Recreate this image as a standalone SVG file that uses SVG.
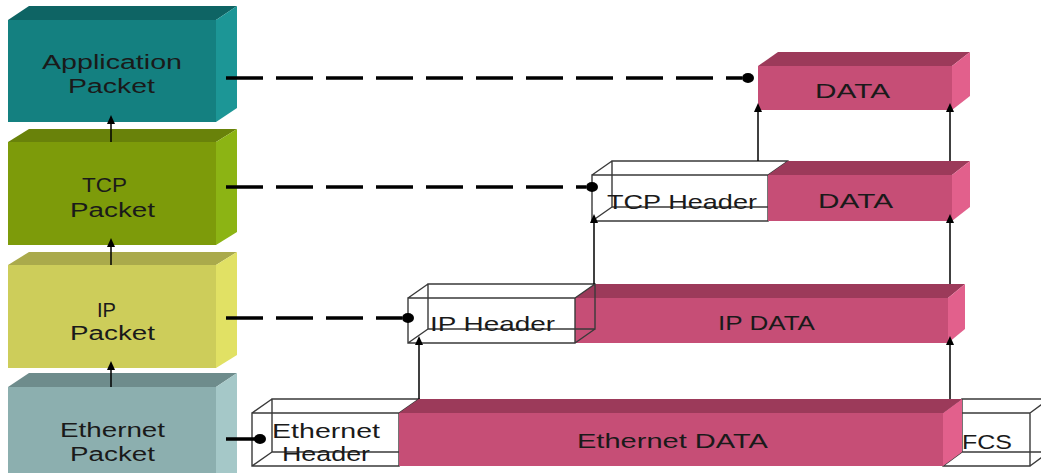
<svg xmlns="http://www.w3.org/2000/svg" width="1041" height="473" viewBox="0 0 1041 473">
  <style>
    .lbl { font-family: "Liberation Sans", Arial, sans-serif; font-size: 20px; fill: #1a1a1a; }
    .rlbl { font-family: "Liberation Sans", Arial, sans-serif; font-size: 21px; fill: #1a1a1a; }
    .wire { fill: none; stroke: #3a3a3a; stroke-width: 1.4; }
    .pk-front { fill: #c64e76; }
    .pk-top { fill: #9c3a5a; }
    .pk-side { fill: #e2608c; }
    .dash { stroke: #000; stroke-width: 3.5; stroke-dasharray: 37 13; fill: none; }
    .solid { stroke: #000; stroke-width: 3.5; fill: none; }
    .up { stroke: #000; stroke-width: 1.5; fill: none; marker-end: url(#head); }
    .dot { fill: #000; }
  </style>
  <defs>
    <marker id="head" markerUnits="userSpaceOnUse" markerWidth="8" markerHeight="9" refX="4" refY="8" orient="0" viewBox="0 0 8 9">
      <path d="M0,9 L4,0 L8,9 Z" fill="#000"/>
    </marker>
  </defs>
  <rect width="1041" height="473" fill="#ffffff"/>

  <!-- Protocol layers on the left -->
  <g id="application-packet">
    <rect x="8" y="20" width="208" height="102" fill="#148080"/>
    <polygon points="8,20 29,6 237,6 216,20" fill="#0e6464"/>
    <polygon points="216,20 237,6 237,108 216,122" fill="#1c9696"/>
    <text class="lbl" x="42" y="69" textLength="140" lengthAdjust="spacingAndGlyphs">Application</text>
    <text class="lbl" x="68" y="93" textLength="87" lengthAdjust="spacingAndGlyphs">Packet</text>
  </g>
  <g id="tcp-packet">
    <rect x="8" y="142" width="208" height="103" fill="#7d9b0a"/>
    <polygon points="8,142 29,129 237,129 216,142" fill="#69820a"/>
    <polygon points="216,142 237,129 237,232 216,245" fill="#8cb414"/>
    <text class="lbl" x="82" y="192" textLength="45" lengthAdjust="spacingAndGlyphs">TCP</text>
    <text class="lbl" x="70" y="217" textLength="85" lengthAdjust="spacingAndGlyphs">Packet</text>
  </g>
  <g id="ip-packet">
    <rect x="8" y="265" width="208" height="103" fill="#cdcd5a"/>
    <polygon points="8,265 29,252 237,252 216,265" fill="#aaaa4b"/>
    <polygon points="216,265 237,252 237,355 216,368" fill="#e1e164"/>
    <text class="lbl" x="97" y="317" textLength="19" lengthAdjust="spacingAndGlyphs">IP</text>
    <text class="lbl" x="70" y="340" textLength="85" lengthAdjust="spacingAndGlyphs">Packet</text>
  </g>
  <g id="ethernet-packet">
    <rect x="8" y="387" width="208" height="86" fill="#8cafaf"/>
    <polygon points="8,387 29,373 237,373 216,387" fill="#6e8c8c"/>
    <polygon points="216,387 237,373 237,473 216,473" fill="#a5c8c8"/>
    <text class="lbl" x="60" y="437" textLength="105" lengthAdjust="spacingAndGlyphs">Ethernet</text>
    <text class="lbl" x="70" y="461" textLength="85" lengthAdjust="spacingAndGlyphs">Packet</text>
  </g>

  <!-- Application data -->
  <g id="app-data">
    <rect class="pk-front" x="758" y="66" width="194" height="44"/>
    <polygon class="pk-top" points="758,66 778,52 970,52 952,66"/>
    <polygon class="pk-side" points="952,66 970,52 970,96 952,110"/>
    <text class="rlbl" x="815" y="98" textLength="75" lengthAdjust="spacingAndGlyphs">DATA</text>
  </g>

  <!-- TCP segment: header + data -->
  <g id="tcp-header">
    <path class="wire" d="M592,175 H768 V221 H592 Z M612,161 H788 V207 H612 Z M592,175 L612,161 M768,175 L788,161 M592,221 L612,207 M768,221 L788,207"/>
    <text class="rlbl" x="607" y="209" textLength="150" lengthAdjust="spacingAndGlyphs">TCP Header</text>
  </g>
  <g id="tcp-data">
    <rect class="pk-front" x="768" y="175" width="184" height="46"/>
    <polygon class="pk-top" points="768,175 788,161 970,161 952,175"/>
    <polygon class="pk-side" points="952,175 970,161 970,207 952,221"/>
    <text class="rlbl" x="818" y="208" textLength="75" lengthAdjust="spacingAndGlyphs">DATA</text>
  </g>

  <!-- IP datagram: header + data -->
  <g id="ip-data">
    <rect class="pk-front" x="575" y="298" width="373" height="45"/>
    <polygon class="pk-top" points="575,298 595,284 965,284 948,298"/>
    <polygon class="pk-side" points="948,298 965,284 965,329 948,343"/>
    <text class="rlbl" x="718" y="330" textLength="97" lengthAdjust="spacingAndGlyphs">IP DATA</text>
  </g>
  <g id="ip-header">
    <path class="wire" d="M408,298 H575 V343 H408 Z M428,284 H595 V329 H428 Z M408,298 L428,284 M575,298 L595,284 M408,343 L428,329 M575,343 L595,329"/>
    <text class="rlbl" x="430" y="331" textLength="125" lengthAdjust="spacingAndGlyphs">IP Header</text>
  </g>

  <!-- Ethernet frame: header + data + FCS -->
  <g id="ethernet-header">
    <path class="wire" d="M252,413 H399 V466 H252 Z M272,399 H419 V452 H272 Z M252,413 L272,399 M399,413 L419,399 M252,466 L272,452 M399,466 L419,452"/>
    <text class="rlbl" x="272" y="438" textLength="108" lengthAdjust="spacingAndGlyphs">Ethernet</text>
    <text class="rlbl" x="282" y="461" textLength="88" lengthAdjust="spacingAndGlyphs">Header</text>
  </g>
  <g id="fcs">
    <path class="wire" d="M943,413 H1030 V466 H943 Z M962,399 H1049 V452 H962 Z M943,413 L962,399 M1030,413 L1049,399 M943,466 L962,452 M1030,466 L1049,452"/>
    <text class="rlbl" x="962" y="449" textLength="50" lengthAdjust="spacingAndGlyphs">FCS</text>
  </g>
  <g id="ethernet-data">
    <rect class="pk-front" x="399" y="413" width="544" height="53"/>
    <polygon class="pk-top" points="399,413 419,399 962,399 943,413"/>
    <polygon class="pk-side" points="943,413 962,399 962,452 943,466"/>
    <text class="rlbl" x="577" y="448" textLength="191" lengthAdjust="spacingAndGlyphs">Ethernet DATA</text>
  </g>

  <!-- Connectors -->
  <g id="connectors">
    <path class="dash" d="M226,78 H742"/>
    <ellipse class="dot" cx="748" cy="78" rx="6" ry="5"/>
    <path class="dash" d="M226,187 H586"/>
    <ellipse class="dot" cx="592" cy="187" rx="6" ry="5"/>
    <path class="dash" d="M226,318 H402"/>
    <ellipse class="dot" cx="408" cy="318" rx="6" ry="5"/>
    <path class="solid" d="M226,439 H255"/>
    <ellipse class="dot" cx="260" cy="439" rx="6" ry="5"/>

    <path class="up" d="M111,142 V123"/>
    <path class="up" d="M111,265 V246"/>
    <path class="up" d="M111,387 V369"/>

    <path class="up" d="M758,161 V111"/>
    <path class="up" d="M950,161 V111"/>
    <path class="up" d="M594,284 V222"/>
    <path class="up" d="M950,284 V222"/>
    <path class="up" d="M419,399 V344"/>
    <path class="up" d="M950,399 V344"/>
  </g>
</svg>
